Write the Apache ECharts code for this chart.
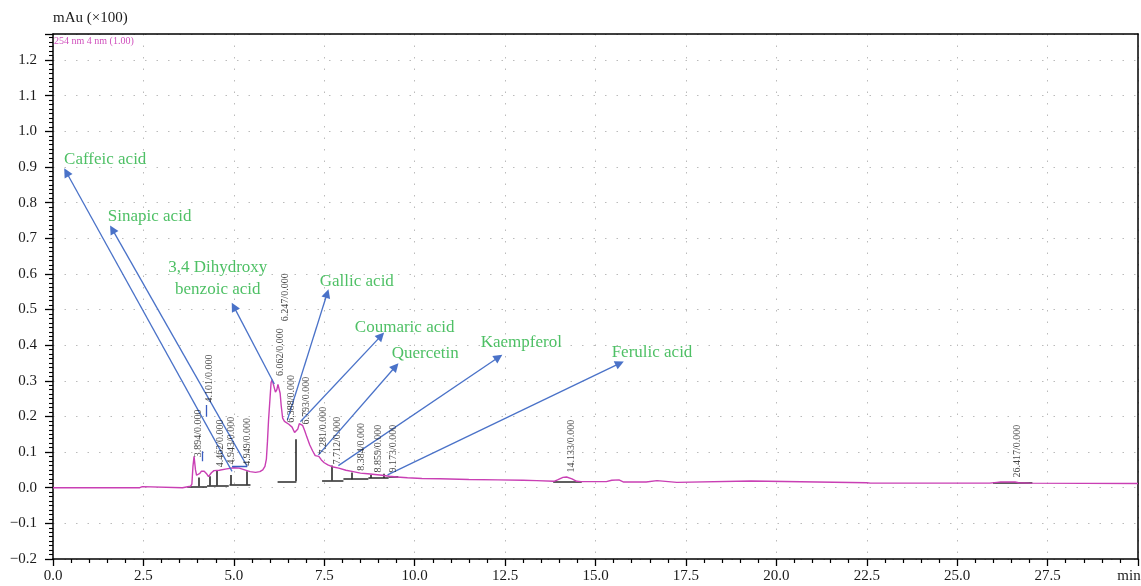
<!DOCTYPE html>
<html>
<head>
<meta charset="utf-8">
<script src="https://cdn.jsdelivr.net/npm/echarts@6/dist/echarts.min.js"></script>
<style>
html,body{margin:0;padding:0;background:#fff;}
#chart{width:1141px;height:586px;}
</style>
</head>
<body>
<div id="chart"></div>
<script>
// ---- chromatogram trace (retention time in min, signal in mAu x100) ----
const traceTime = [0, 2.40, 2.43, 2.47, 2.50, 3.58, 3.60, 3.80, 3.84, 3.87, 3.90, 3.92, 3.94, 3.97, 4.01, 4.06, 4.10, 4.18, 4.24, 4.30, 4.34, 4.38, 4.45, 4.60, 4.80, 5.00, 5.15, 5.30, 5.45, 5.60, 5.72, 5.80, 5.86, 5.90, 5.93, 5.96, 6.00, 6.03, 6.06, 6.10, 6.15, 6.19, 6.22, 6.25, 6.28, 6.31, 6.35, 6.40, 6.45, 6.52, 6.61, 6.68, 6.72, 6.77, 6.81, 6.85, 6.90, 6.96, 7.02, 7.10, 7.18, 7.25, 7.30, 7.35, 7.42, 7.50, 7.60, 7.75, 7.90, 8.10, 8.30, 8.50, 8.70, 8.90, 9.10, 9.30, 9.50, 9.80, 10.2, 10.7, 11.5, 12.3, 13.0, 13.37, 13.42, 13.85, 13.95, 14.10, 14.20, 14.35, 14.48, 14.60, 14.90, 14.93, 14.98, 15.30, 15.45, 15.65, 15.78, 16.40, 16.45, 16.70, 16.75, 17.25, 17.30, 19.30, 19.33, 22.50, 22.60, 25.90, 26.10, 26.20, 26.60, 26.70, 27.00, 30.0];
const traceValue = [0, 0, 0.003, 0.003, 0, 0, 0.004, 0.004, 0.010, 0.060, 0.088, 0.085, 0.050, 0.035, 0.030, 0.040, 0.046, 0.046, 0.040, 0.031, 0.032, 0.042, 0.048, 0.049, 0.053, 0.056, 0.055, 0.050, 0.045, 0.043, 0.045, 0.050, 0.060, 0.080, 0.130, 0.190, 0.250, 0.295, 0.303, 0.300, 0.268, 0.275, 0.290, 0.285, 0.265, 0.230, 0.195, 0.186, 0.188, 0.178, 0.170, 0.155, 0.152, 0.165, 0.180, 0.183, 0.175, 0.160, 0.142, 0.120, 0.103, 0.090, 0.092, 0.088, 0.078, 0.070, 0.064, 0.058, 0.055, 0.049, 0.045, 0.041, 0.039, 0.037, 0.035, 0.032, 0.030, 0.028, 0.026, 0.025, 0.023, 0.022, 0.021, 0.020, 0.017, 0.018, 0.022, 0.029, 0.030, 0.025, 0.018, 0.017, 0.017, 0.020, 0.017, 0.017, 0.021, 0.022, 0.016, 0.016, 0.020, 0.020, 0.016, 0.015, 0.019, 0.019, 0.015, 0.014, 0.013, 0.013, 0.015, 0.016, 0.016, 0.014, 0.013, 0.012];

// ---- peak labels (rotated) ----
const peakLabels = ['3.894/0.000', '4.101/0.000', '4.462/0.000', '4.943/0.000', '4.949/0.000', '6.062/0.000', '6.247/0.000', '6.388/0.000', '6.793/0.000', '7.281/0.000', '7.712/0.000', '8.384/0.000', '8.859/0.000', '9.173/0.000', '14.133/0.000', '26.417/0.000'];
const peakLabelTime = [4.03, 4.35, 4.65, 4.95, 5.38, 6.29, 6.45, 6.61, 7.01, 7.49, 7.87, 8.55, 9.00, 9.42, 14.35, 26.69];
const peakLabelValue = [0.084, 0.238, 0.056, 0.064, 0.060, 0.312, 0.466, 0.181, 0.176, 0.092, 0.064, 0.046, 0.041, 0.041, 0.041, 0.027];

// ---- integration baselines and drop lines ----
const baselineStart = [3.71, 4.26, 4.88, 6.21, 7.44, 8.03, 8.72, 9.28, 13.83, 25.99];
const baselineEnd   = [4.26, 4.86, 5.46, 6.73, 8.03, 8.72, 9.28, 9.55, 14.62, 27.08];
const baselineValue = [0.004, 0.006, 0.008, 0.018, 0.020, 0.024, 0.027, 0.031, 0.018, 0.013];
const dropTime = [4.03, 4.33, 4.54, 4.92, 5.36, 6.70, 7.71, 8.26, 8.79, 9.14];
const dropBase = [0.004, 0.006, 0.006, 0.008, 0.008, 0.018, 0.020, 0.024, 0.027, 0.027];
const dropTop  = [0.029, 0.032, 0.048, 0.036, 0.046, 0.136, 0.062, 0.043, 0.036, 0.039];

// ---- compound annotations ----
const compoundNames = ['Caffeic acid', 'Sinapic acid', '3,4 Dihydroxy\nbenzoic acid', 'Gallic acid', 'Coumaric acid', 'Quercetin', 'Kaempferol', 'Ferulic acid'];
const compoundLabelTime  = [0.32, 1.53, 4.57, 7.39, 8.36, 9.38, 11.84, 15.46];
const compoundLabelValue = [0.919, 0.759, 0.585, 0.577, 0.448, 0.375, 0.406, 0.378];
const arrowTailTime  = [4.95, 5.37, 6.12, 6.48, 6.84, 7.34, 7.89, 9.25];
const arrowTailValue = [0.046, 0.060, 0.291, 0.190, 0.185, 0.092, 0.062, 0.036];
const arrowHeadTime  = [0.37, 1.64, 5.00, 7.58, 9.07, 9.47, 12.32, 15.67];
const arrowHeadValue = [0.885, 0.725, 0.508, 0.545, 0.426, 0.340, 0.366, 0.349];
// small stray blue marks
const blueMarkTime   = [4.24, 4.14, 4.95];
const blueMarkFrom   = [0.232, 0.102, 0.060];
const blueMarkToTime = [4.24, 4.14, 5.37];
const blueMarkTo     = [0.199, 0.074, 0.060];

const SERIF = 'Liberation Serif';
const chart = echarts.init(document.getElementById('chart'), null, {renderer: 'canvas'});

const fmtNum = v => {
  const s = Math.abs(v).toFixed(1);
  return (v < -1e-9 ? '\u2212' : '') + s;
};

const markerLines = [];
for (let i = 0; i < baselineStart.length; i++) {
  markerLines.push({coords: [[baselineStart[i], baselineValue[i]], [baselineEnd[i], baselineValue[i]]]});
}
for (let i = 0; i < dropTime.length; i++) {
  markerLines.push({coords: [[dropTime[i], dropBase[i]], [dropTime[i], dropTop[i]]]});
}
const arrows = compoundNames.map((n, i) => ({coords: [[arrowTailTime[i], arrowTailValue[i]], [arrowHeadTime[i], arrowHeadValue[i]]]}));
const blueMarks = blueMarkTime.map((t, i) => ({coords: [[t, blueMarkFrom[i]], [blueMarkToTime[i], blueMarkTo[i]]]}));

const frameAxis = {
  type: 'value', min: 0, max: 1,
  axisLine: {show: true, onZero: false, lineStyle: {color: '#000', width: 1.5}},
  axisTick: {show: false}, axisLabel: {show: false}, splitLine: {show: false}
};

const option = {
  animation: false,
  backgroundColor: '#fff',
  grid: {left: 53, right: 3, top: 34, bottom: 27, containLabel: false, outerBoundsMode: 'none'},
  graphic: [{
    type: 'text', left: 54, top: 36,
    style: {text: '254 nm 4 nm (1.00)', fill: '#d050bd', font: '10px "Liberation Serif"'}
  }],
  xAxis: [{
    type: 'value', min: 0, max: 30, interval: 2.5,
    axisLine: {show: true, onZero: false, lineStyle: {color: '#000', width: 1.5}},
    axisTick: {show: true, length: 7, lineStyle: {color: '#000', width: 1.3}},
    minorTick: {show: true, splitNumber: 5, length: 4, lineStyle: {color: '#000', width: 1.2}},
    splitLine: {show: true, lineStyle: {color: '#bbb', type: [1.5, 10], width: 1}},
    axisLabel: {
      color: '#1a1a1a', fontFamily: SERIF, fontSize: 15, margin: 10, showMaxLabel: true, hideOverlap: false,
      formatter: v => v >= 30 ? '{m|min}' : v.toFixed(1),
      rich: {m: {fontFamily: SERIF, fontSize: 15, color: '#1a1a1a', padding: [0, 18, 0, 0]}}
    }
  }, Object.assign({position: 'top'}, frameAxis)],
  yAxis: [{
    type: 'value', min: -0.2, max: 1.273, interval: 0.1,
    name: 'mAu (\u00d7100)', nameLocation: 'end', nameGap: 8,
    nameTextStyle: {align: 'left', verticalAlign: 'bottom', fontFamily: SERIF, fontSize: 15, color: '#1a1a1a'},
    axisLine: {show: true, onZero: false, lineStyle: {color: '#000', width: 1.5}},
    axisTick: {show: true, length: 8, lineStyle: {color: '#000', width: 1.3}},
    minorTick: {show: true, splitNumber: 8, length: 4, lineStyle: {color: '#000', width: 1.1}},
    splitLine: {show: true, lineStyle: {color: '#bbb', type: [1.5, 10], width: 1}},
    axisLabel: {color: '#1a1a1a', fontFamily: SERIF, fontSize: 15, margin: 16, showMaxLabel: false, formatter: fmtNum}
  }, Object.assign({position: 'right'}, frameAxis)],
  series: [
    {
      type: 'lines', coordinateSystem: 'cartesian2d', z: 3, silent: true,
      lineStyle: {color: '#2a2a2a', width: 1.6, opacity: 1},
      data: markerLines
    },
    {
      type: 'line', z: 4, silent: true, symbol: 'none',
      lineStyle: {color: '#c93fb4', width: 1.4},
      data: traceTime.map((t, i) => [t, traceValue[i]])
    },
    {
      type: 'lines', coordinateSystem: 'cartesian2d', z: 5, silent: true,
      symbol: ['none', 'triangle'], symbolSize: [7, 9],
      lineStyle: {color: '#4a72c8', width: 1.3, opacity: 1},
      data: arrows
    },
    {
      type: 'lines', coordinateSystem: 'cartesian2d', z: 5, silent: true,
      lineStyle: {color: '#3a5cc0', width: 1.3, opacity: 1},
      data: blueMarks
    },
    {
      type: 'scatter', z: 6, silent: true, symbol: 'circle', symbolSize: 1,
      itemStyle: {color: 'rgba(0,0,0,0)'},
      label: {
        show: true, formatter: '{b}', position: [0, 0], rotate: 90, align: 'left', verticalAlign: 'middle',
        fontFamily: SERIF, fontSize: 10, color: '#111'
      },
      labelLayout: {hideOverlap: false},
      data: peakLabels.map((n, i) => ({name: n, value: [peakLabelTime[i], peakLabelValue[i]]}))
    },
    {
      type: 'scatter', z: 7, silent: true, symbol: 'circle', symbolSize: 1,
      itemStyle: {color: 'rgba(0,0,0,0)'},
      label: {
        show: true, formatter: '{b}', position: [0, 0], align: 'left', verticalAlign: 'middle',
        fontFamily: SERIF, fontSize: 17, color: '#22b03f', lineHeight: 22
      },
      labelLayout: {hideOverlap: false},
      data: compoundNames.map((n, i) => {
        const d = {name: n, value: [compoundLabelTime[i], compoundLabelValue[i]]};
        if (n.indexOf('\n') >= 0) d.label = {align: 'center'};
        return d;
      })
    }
  ]
};
chart.setOption(option);
</script>
</body>
</html>
